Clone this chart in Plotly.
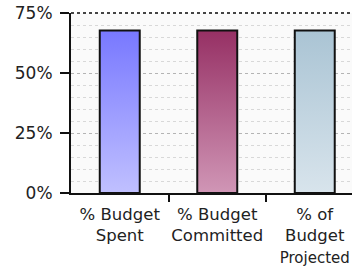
import plotly.graph_objects as go

categories = ["% Budget<br>Spent", "% Budget<br>Committed",
              "% of<br>Budget<br><span style='font-size:15px'>Projected</span>"]
values = [67.7, 67.7, 67.7]
top_colors = ["rgb(120,120,255)", "rgb(150,48,100)", "rgb(170,196,212)"]
bottom_colors = ["rgb(192,192,255)", "rgb(208,150,182)", "rgb(216,228,236)"]
y_ticks = [0, 25, 50, 75]

bar_w = 0.41
fig = go.Figure()
for i, (v, ct, cb) in enumerate(zip(values, top_colors, bottom_colors)):
    x0, x1 = i - bar_w / 2, i + bar_w / 2
    fig.add_trace(go.Scatter(
        x=[x0, x0, x1, x1, x0], y=[0, v, v, 0, 0],
        mode="lines", fill="toself",
        line=dict(color="#111111", width=2),
        fillgradient=dict(type="vertical", colorscale=[[0, cb], [1, ct]]),
        hoverinfo="skip", showlegend=False,
    ))

fig.add_shape(type="line", xref="paper", yref="y domain", x0=0, x1=1, y0=1, y1=1,
              line=dict(color="#444444", width=2, dash="dot"), layer="below")

fig.update_layout(
    width=352, height=273,
    margin=dict(l=71, r=0, t=13, b=80, autoexpand=False),
    paper_bgcolor="white", plot_bgcolor="rgb(250,250,250)",
    font=dict(family="DejaVu Sans", size=17, color="#222222"),
    xaxis=dict(
        range=[-0.5, 2.382], tickmode="array",
        tickvals=list(range(len(categories))), ticktext=categories,
        tickfont=dict(size=16.5),
        ticks="", showgrid=False, zeroline=False, automargin=False,
        ticklabeloverflow="allow", ticklabelstandoff=5,
        showline=True, linecolor="#111111", linewidth=2,
        minor=dict(tickvals=[0.5, 1.5, 2.5], ticks="outside", ticklen=7,
                   tickcolor="#111111", tickwidth=2, showgrid=False),
        fixedrange=True,
    ),
    yaxis=dict(
        range=[0, 75], tickmode="array", tickvals=y_ticks,
        ticktext=[f"{t}%" for t in y_ticks],
        ticks="outside", ticklen=9, tickwidth=2, tickcolor="#111111",
        ticklabelstandoff=4, automargin=False,
        showline=True, linecolor="#111111", linewidth=2,
        zeroline=False,
        showgrid=True, gridcolor="#b4b4b4", griddash="dot", gridwidth=1,
        minor=dict(dtick=5, showgrid=True, gridcolor="#d8d8d8", griddash="dot", gridwidth=1, ticks=""),
        fixedrange=True,
    ),
)

fig.write_html("out.html", config={"displayModeBar": False, "staticPlot": True},
               post_script="document.body.style.margin='0';document.body.style.overflow='hidden';")
